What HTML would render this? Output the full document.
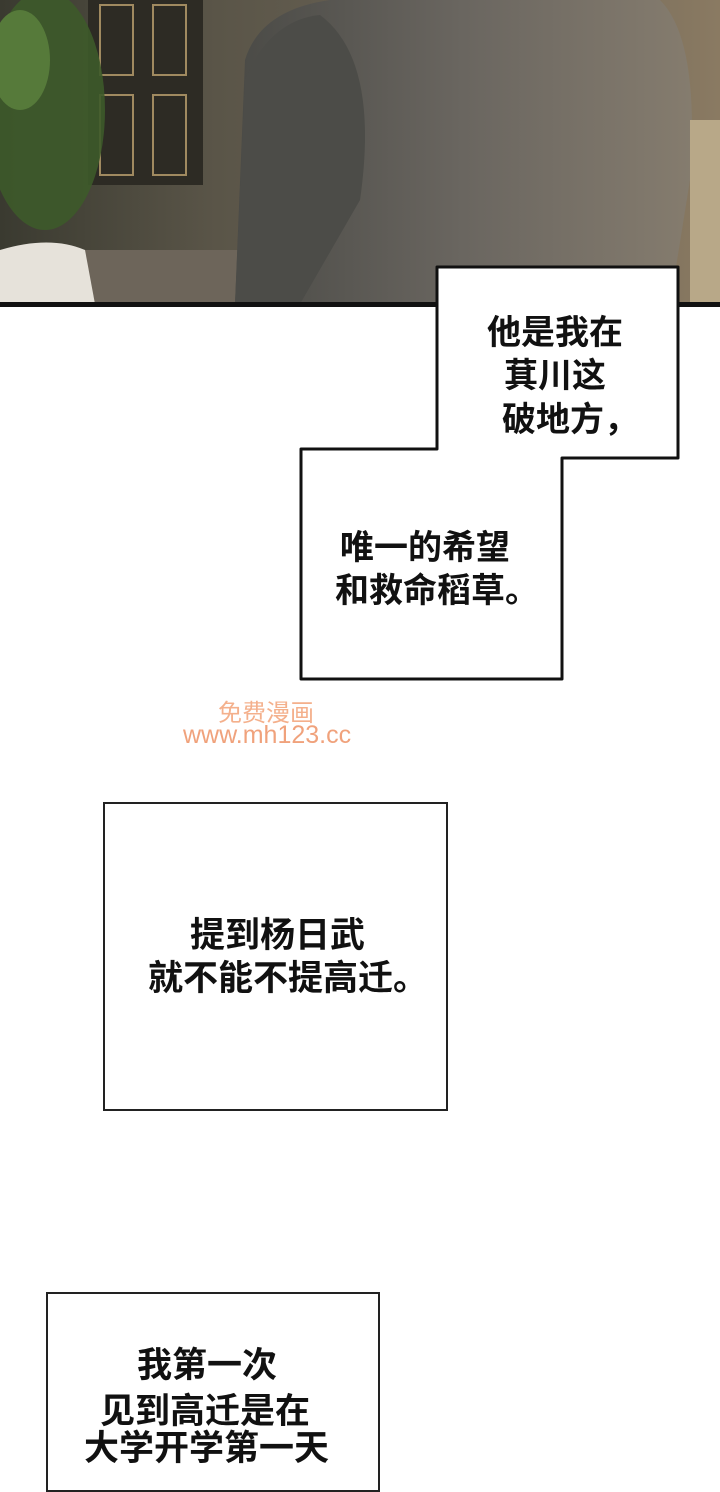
<!DOCTYPE html>
<html><head><meta charset="utf-8"><style>
html,body{margin:0;padding:0;background:#fff;}
body{width:720px;height:1440px;position:relative;overflow:hidden;font-family:"Liberation Sans","Noto Sans CJK SC",sans-serif;}
.t{position:absolute;white-space:nowrap;color:#111;font-size:34px;line-height:1;font-weight:bold;}
.box{position:absolute;border:2px solid #222;background:#fff;box-sizing:border-box;}
</style></head><body>
<svg width="720" height="310" style="position:absolute;left:0;top:0">
<defs>
<linearGradient id="bg" x1="0" x2="1" y1="0" y2="0">
<stop offset="0" stop-color="#3a3a30"/><stop offset="0.3" stop-color="#5a5548"/><stop offset="0.7" stop-color="#6e6658"/><stop offset="1" stop-color="#8a7a62"/></linearGradient>
<linearGradient id="body" x1="0" x2="1"><stop offset="0" stop-color="#4a4a46"/><stop offset="0.5" stop-color="#6a6660"/><stop offset="1" stop-color="#857c6e"/></linearGradient>
</defs>
<rect width="720" height="304" fill="url(#bg)"/>
<rect x="0" y="250" width="240" height="54" fill="#6d655a"/>
<rect x="88" y="0" width="115" height="185" fill="#2d2b24"/>
<rect x="100" y="95" width="33" height="80" fill="none" stroke="#a08a60" stroke-width="2"/>
<rect x="153" y="95" width="33" height="80" fill="none" stroke="#a08a60" stroke-width="2"/>
<rect x="100" y="5" width="33" height="70" fill="none" stroke="#a08a60" stroke-width="2"/>
<rect x="153" y="5" width="33" height="70" fill="none" stroke="#a08a60" stroke-width="2"/>
<ellipse cx="45" cy="110" rx="60" ry="120" fill="#3d5a2a" opacity="0.9"/>
<ellipse cx="20" cy="60" rx="30" ry="50" fill="#567a3a"/>
<path d="M0 250 Q50 235 85 250 L95 304 L0 304 Z" fill="#e6e2da"/>
<path d="M235 304 L245 60 Q260 10 330 0 L660 0 Q700 40 690 180 L670 304 Z" fill="url(#body)"/>
<path d="M245 80 Q270 20 320 15 Q380 60 360 200 L300 304 L235 304 Z" fill="#4c4c48"/>
<rect x="690" y="120" width="30" height="184" fill="#b8a888"/>
<rect x="0" y="302" width="720" height="5" fill="#111"/>
</svg>
<svg width="720" height="700" style="position:absolute;left:0;top:0">
<path d="M437 267 L678 267 L678 458 L562 458 L562 679 L301 679 L301 449 L437 449 Z" fill="#fff" stroke="#111" stroke-width="3" stroke-linejoin="round"/>
</svg>
<div class="t" style="left:487px;top:316px;font-size:34px">他是我在</div>
<div class="t" style="left:504px;top:359px;font-size:34px">萁川这</div>
<div class="t" style="left:502px;top:403px;font-size:34px">破地方，</div>
<div class="t" style="left:340px;top:531px;font-size:34px">唯一的希望</div>
<div class="t" style="left:335px;top:574px;font-size:34px">和救命稻草。</div>
<div class="t" style="left:218px;top:702px;font-size:24px;color:#f4b08c;font-weight:normal">免费漫画</div>
<div class="t" style="left:183px;top:723px;font-size:25px;color:#f0a27c;font-weight:normal">www.mh123.cc</div>
<div class="box" style="left:103px;top:802px;width:345px;height:309px"></div>
<div class="t" style="left:190px;top:918px;font-size:35px">提到杨日武</div>
<div class="t" style="left:148px;top:961px;font-size:35px">就不能不提高迁。</div>
<div class="box" style="left:46px;top:1292px;width:334px;height:200px"></div>
<div class="t" style="left:137px;top:1348px;font-size:35px">我第一次</div>
<div class="t" style="left:100px;top:1394px;font-size:35px">见到高迁是在</div>
<div class="t" style="left:84px;top:1431px;font-size:35px">大学开学第一天</div>
</body></html>
